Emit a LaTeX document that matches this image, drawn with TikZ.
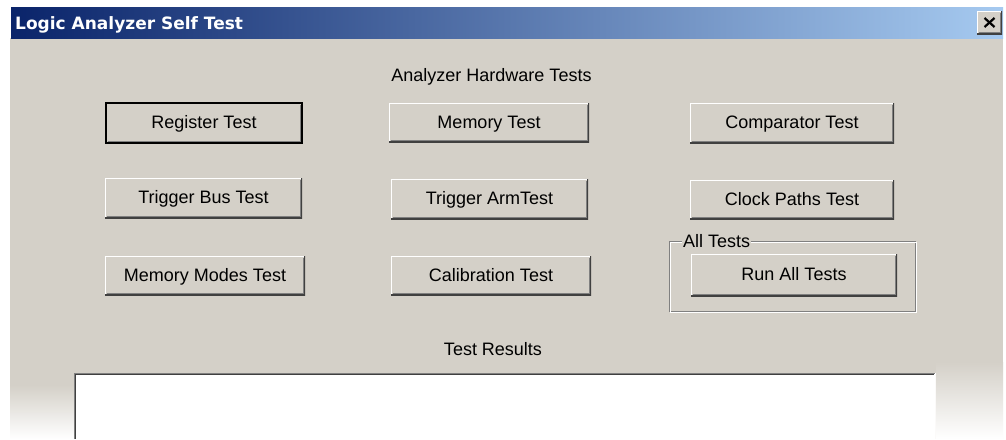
\documentclass[tikz,border=0pt]{standalone}
\usepackage{fontspec}
\setmainfont{Liberation Sans}
\newfontfamily\titlefont{DejaVu Sans}
\usetikzlibrary{positioning}
\definecolor{bg}{RGB}{212,208,200}
\definecolor{navy}{RGB}{10,36,106}
\definecolor{lightblue}{RGB}{166,202,240}
\definecolor{shadowgray}{RGB}{128,128,128}
\definecolor{darkgray}{RGB}{64,64,64}
\tikzset{
  winbutton/.style={rectangle, fill=bg, inner sep=0pt,
    minimum width=#1, text height=14pt, text depth=3pt,
    font=\fontsize{18}{20}\selectfont,
    path picture={
      \draw[white, line width=2pt] (path picture bounding box.south west) |- (path picture bounding box.north east);
      \draw[darkgray, line width=2.4pt] (path picture bounding box.south west) -| (path picture bounding box.north east);
      \draw[shadowgray, line width=1pt] ([xshift=1.5pt,yshift=1.7pt]path picture bounding box.south west) -| ([xshift=-1.7pt,yshift=-1.5pt]path picture bounding box.north east);
    }},
  defaultbtn/.style={draw=black, line width=1.2pt},
  label/.style={inner sep=0pt, font=\fontsize{18}{20}\selectfont, anchor=base},
}
\begin{document}
\begin{tikzpicture}[x=1pt,y=-1pt]
\useasboundingbox (0,0) rectangle (1006,439);
\fill[white] (0,0) rectangle (1006,439);
% window body
\fill[bg] (10,38) rectangle (1003,439);
% bottom fades
\shade[top color=bg, bottom color=white] (10,385) rectangle (74,439);
\shade[top color=bg, bottom color=white] (936,362) rectangle (1003,439);
% title bar
\shade[left color=navy, right color=lightblue] (11,7) rectangle (1003,38);
\node[anchor=base west, inner sep=0pt, text=white, font=\titlefont\bfseries\fontsize{17}{19}\selectfont] (title) at (15,29) {Logic Analyzer Self Test};
% close button
\node[winbutton=25pt, minimum height=23pt, text height=0pt, text depth=0pt] (close) at (989.5,22.5) {};
\draw[black, line width=2.2pt] ([xshift=-5pt,yshift=-4.5pt]close.center) -- ([xshift=5pt,yshift=4.5pt]close.center)
  ([xshift=-5pt,yshift=4.5pt]close.center) -- ([xshift=5pt,yshift=-4.5pt]close.center);

\node[label] (hw) at (491.5,81) {Analyzer Hardware Tests};

% buttons
\node[winbutton=196pt, minimum height=40pt, defaultbtn] (reg) at (204,123) {Register Test};
\node[winbutton=200pt, minimum height=39pt] (mem) at (489,122.5) {Memory Test};
\node[winbutton=204pt, minimum height=40pt] (comp) at (792,123) {Comparator Test};
\node[winbutton=197pt, minimum height=40pt] (tbus) at (203.5,198) {Trigger Bus Test};
\node[winbutton=197pt, minimum height=40pt] (tarm) at (489.5,199) {Trigger ArmTest};
\node[winbutton=204pt, minimum height=39pt] (clk) at (792,199.5) {Clock Paths Test};
\node[winbutton=200pt, minimum height=39pt] (mmodes) at (205,275.5) {Memory Modes Test};
\node[winbutton=200pt, minimum height=39pt] (cal) at (491,275.5) {Calibration Test};

% group box
\draw[shadowgray, line width=1pt] (669,241) rectangle (915,311);
\draw[white, line width=1pt] (670,242) rectangle (916,312);
\node[anchor=base west, inner sep=1pt, fill=bg, font=\fontsize{18}{20}\selectfont] (alltests) at (682,247) {All Tests};
\node[winbutton=206pt, minimum height=42pt] (runall) at (794,275) {Run All Tests};

\node[label] (tr) at (493,355) {Test Results};

% results box
\fill[white] (74,373) rectangle (936,439);
\draw[shadowgray, line width=1.2pt] (74.6,439) -- (74.6,373.6) -- (935.4,373.6);
\draw[darkgray, line width=1.2pt] (75.8,439) -- (75.8,374.8) -- (934.2,374.8);
\draw[white!90!bg, line width=1pt] (935.5,374) -- (935.5,439);
\end{tikzpicture}
\end{document}
